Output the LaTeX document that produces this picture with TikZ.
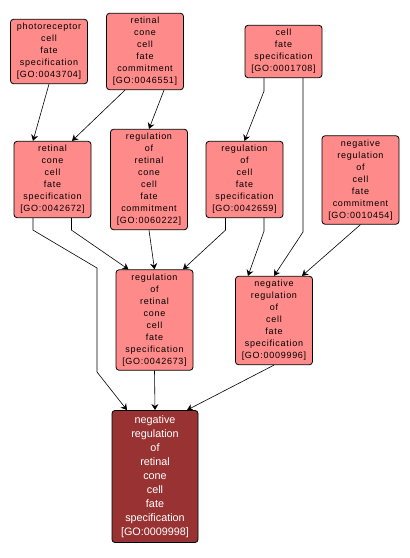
\documentclass[tikz,border=0pt]{standalone}
\usepackage{fontspec}
\setmainfont{Liberation Sans}
\newfontfamily\gofont[LetterSpace=8]{Liberation Sans}
\usetikzlibrary{arrows.meta}
\definecolor{termpink}{HTML}{FF8A8A}
\definecolor{termdark}{HTML}{993333}
\tikzset{
  term/.style={draw=black, line width=0.8pt, fill=termpink, rounded corners=3pt,
    align=center, minimum width=77pt, inner xsep=1pt, inner ysep=4pt,
    font=\gofont\fontsize{9}{12}\selectfont},
  goal/.style={term, fill=termdark, text=white, minimum width=86pt, inner ysep=5pt,
    font=\fontsize{10.8}{14}\selectfont},
  link/.style={-{Stealth[length=6pt,width=7pt,inset=2pt]}, line width=0.6pt}
}
\begin{document}
\begin{tikzpicture}[x=1pt,y=-1pt]
    \useasboundingbox (0,0) rectangle (410,558);
    \node[term] at (49,51.5) (A) {photoreceptor\\cell\\fate\\specification\\{[GO:0043704]}};
    \node[term] at (145,51.5) (B) {retinal\\cone\\cell\\fate\\commitment\\{[GO:0046551]}};
    \node[term] at (283.5,51.5) (C) {cell\\fate\\specification\\{[GO:0001708]}};
    \node[term] at (52.5,179.5) (D) {retinal\\cone\\cell\\fate\\specification\\{[GO:0042672]}};
    \node[term] at (149,179.5) (E) {regulation\\of\\retinal\\cone\\cell\\fate\\commitment\\{[GO:0060222]}};
    \node[term] at (244.5,179.5) (F) {regulation\\of\\cell\\fate\\specification\\{[GO:0042659]}};
    \node[term] at (360.5,180) (G) {negative\\regulation\\of\\cell\\fate\\commitment\\{[GO:0010454]}};
    \node[term] at (154.5,320) (H) {regulation\\of\\retinal\\cone\\cell\\fate\\specification\\{[GO:0042673]}};
    \node[term] at (274,320.5) (I) {negative\\regulation\\of\\cell\\fate\\specification\\{[GO:0009996]}};
    \node[goal] at (155,476.5) (J) {negative\\regulation\\of\\retinal\\cone\\cell\\fate\\specification\\{[GO:0009998]}};
    \draw[link] (A.south) -- ([xshift=-19.5pt]D.north);
    \draw[link] ([xshift=-20pt]B.south) -- ([xshift=19.5pt]D.north);
    \draw[link] ([xshift=19pt]B.south) -- (E.north);
    \draw[link] ([xshift=-19.5pt]C.south) -- ++(0,13) -- (F.north);
    \draw[link] ([xshift=19.5pt]C.south) -- (303,232) -- (I.north);
    \draw[link] ([xshift=19pt]D.south) -- ++(0,12) -- ([xshift=-26pt]H.north);
    \draw[link] ([xshift=-19.5pt]D.south) -- ++(0,12) -- (97,268) -- (97,372) -- ([xshift=-28pt]J.north);
    \draw[link] (E.south) -- (H.north);
    \draw[link] ([xshift=-19pt]F.south) -- ++(0,12) -- ([xshift=28.5pt]H.north);
    \draw[link] ([xshift=19.5pt]F.south) -- ++(0,13) -- ([xshift=-26pt]I.north);
    \draw[link] (G.south) -- ([xshift=28pt]I.north);
    \draw[link] (H.south) -- (J.north);
    \draw[link] (I.south) -- ([xshift=32pt]J.north);
\end{tikzpicture}
\end{document}
